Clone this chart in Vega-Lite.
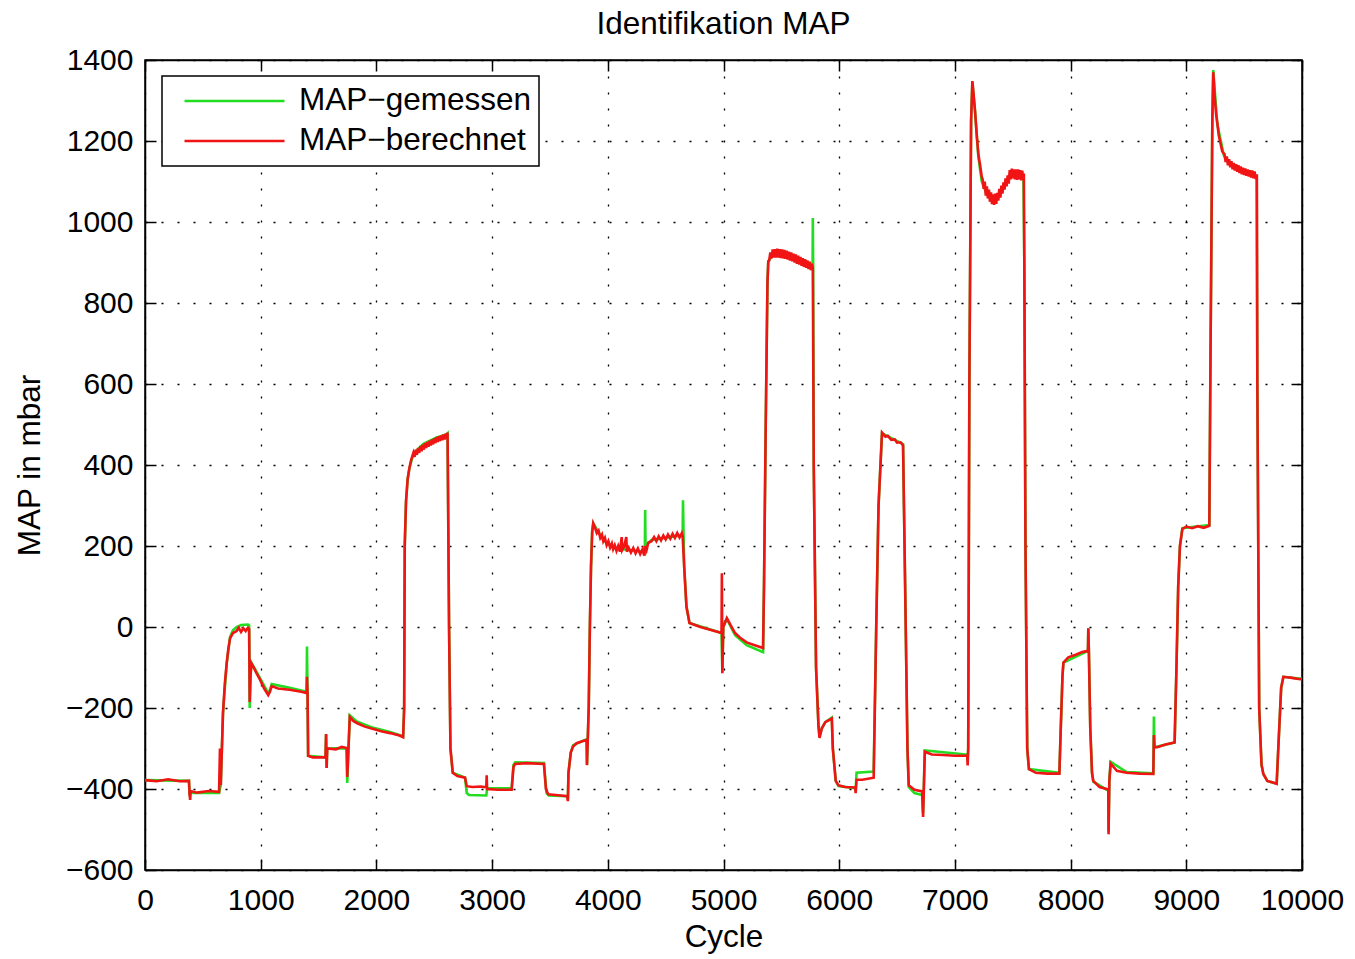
{
  "$schema": "https://vega.github.io/schema/vega-lite/v6.json",
  "width": 1157,
  "height": 810,
  "autosize": {"type": "none"},
  "padding": {"left": 145, "top": 60, "right": 53, "bottom": 89},
  "background": "white",
  "title": {"text": "Identifikation MAP", "fontSize": 31.5, "font": "Liberation Sans", "fontWeight": "normal", "color": "black", "offset": 5, "anchor": "middle"},
  "config": {
    "font": "Liberation Sans",
    "view": {"stroke": "black", "strokeWidth": 1.5},
    "axis": {
      "domainColor": "black", "domainWidth": 1.5,
      "tickColor": "black", "tickWidth": 1.5, "tickSize": -11,
      "labelFontSize": 30, "labelColor": "black", "labelFont": "Liberation Sans",
      "titleFontSize": 31.5, "titleFontWeight": "normal", "titleColor": "black", "titleFont": "Liberation Sans",
      "gridColor": "black", "gridDash": [2, 14], "gridWidth": 1.3, "gridOpacity": 1
    },
    "legend": {
      "strokeColor": "black", "fillColor": "white", "strokeWidth": 1.5,
      "padding": 8, "labelFontSize": 31.5, "labelColor": "black", "labelFont": "Liberation Sans", "labelLimit": 400
    }
  },
  "datasets": {
    "gem": [
      {"c":0,"v":-378},{"c":380,"v":-380},{"c":385,"v":-412},{"c":395,"v":-410},{"c":640,"v":-410},{"c":655,"v":-390},{"c":674,"v":-213},{"c":706,"v":-90},{"c":735,"v":-25},{"c":760,"v":-8},{"c":792,"v":0},{"c":830,"v":5},{"c":890,"v":6},{"c":900,"v":4},{"c":905,"v":-200},{"c":912,"v":-120},{"c":920,"v":-88},{"c":994,"v":-126},{"c":1065,"v":-163},{"c":1080,"v":-155},{"c":1095,"v":-141},{"c":1250,"v":-150},{"c":1397,"v":-160},{"c":1400,"v":-48},{"c":1405,"v":-165},{"c":1410,"v":-318},{"c":1560,"v":-322},{"c":1565,"v":-264},{"c":1570,"v":-348},{"c":1575,"v":-300},{"c":1743,"v":-299},{"c":1748,"v":-385},{"c":1770,"v":-218},{"c":1830,"v":-233},{"c":1974,"v":-249},{"c":2118,"v":-259},{"c":2231,"v":-270},{"c":2240,"v":-200},{"c":2245,"v":200},{"c":2256,"v":310},{"c":2270,"v":365},{"c":2285,"v":392},{"c":2320,"v":428},{"c":2406,"v":452},{"c":2522,"v":468},{"c":2608,"v":476},{"c":2615,"v":478},{"c":2620,"v":300},{"c":2628,"v":0},{"c":2640,"v":-300},{"c":2660,"v":-360},{"c":2766,"v":-372},{"c":2781,"v":-410},{"c":2800,"v":-415},{"c":2950,"v":-416},{"c":2957,"v":-398},{"c":3169,"v":-398},{"c":3185,"v":-340},{"c":3200,"v":-334},{"c":3448,"v":-336},{"c":3470,"v":-410},{"c":3490,"v":-416},{"c":3650,"v":-418},{"c":3655,"v":-425},{"c":3660,"v":-360},{"c":3680,"v":-310},{"c":3700,"v":-292},{"c":3817,"v":-277},{"c":3820,"v":-341},{"c":3835,"v":-200},{"c":3845,"v":0},{"c":3855,"v":150},{"c":3865,"v":235},{"c":3874,"v":256},{"c":3961,"v":215},{"c":4046,"v":195},{"c":4305,"v":186},{"c":4320,"v":182},{"c":4323,"v":289},{"c":4326,"v":200},{"c":4378,"v":215},{"c":4647,"v":227},{"c":4650,"v":313},{"c":4655,"v":225},{"c":4660,"v":150},{"c":4680,"v":50},{"c":4706,"v":10},{"c":4983,"v":-15},{"c":4990,"v":-110},{"c":4998,"v":0},{"c":5029,"v":20},{"c":5100,"v":-20},{"c":5200,"v":-45},{"c":5342,"v":-62},{"c":5350,"v":100},{"c":5365,"v":500},{"c":5380,"v":850},{"c":5387,"v":903},{"c":5430,"v":920},{"c":5575,"v":916},{"c":5763,"v":886},{"c":5770,"v":890},{"c":5772,"v":1010},{"c":5775,"v":890},{"c":5780,"v":400},{"c":5800,"v":-100},{"c":5821,"v":-245},{"c":5830,"v":-270},{"c":5850,"v":-250},{"c":5880,"v":-235},{"c":5936,"v":-224},{"c":5945,"v":-300},{"c":5970,"v":-380},{"c":5994,"v":-393},{"c":6139,"v":-398},{"c":6142,"v":-405},{"c":6150,"v":-360},{"c":6298,"v":-357},{"c":6320,"v":0},{"c":6340,"v":300},{"c":6370,"v":478},{"c":6552,"v":452},{"c":6570,"v":100},{"c":6590,"v":-300},{"c":6601,"v":-395},{"c":6650,"v":-410},{"c":6717,"v":-415},{"c":6725,"v":-460},{"c":6740,"v":-305},{"c":7107,"v":-315},{"c":7110,"v":-330},{"c":7115,"v":-300},{"c":7125,"v":600},{"c":7140,"v":1250},{"c":7151,"v":1345},{"c":7174,"v":1274},{"c":7203,"v":1160},{"c":7232,"v":1100},{"c":7275,"v":1068},{"c":7333,"v":1056},{"c":7376,"v":1068},{"c":7448,"v":1101},{"c":7491,"v":1118},{"c":7592,"v":1114},{"c":7600,"v":900},{"c":7610,"v":200},{"c":7625,"v":-300},{"c":7640,"v":-351},{"c":7903,"v":-360},{"c":7915,"v":-250},{"c":7930,"v":-120},{"c":7938,"v":-88},{"c":8150,"v":-59},{"c":8153,"v":-3},{"c":8158,"v":-60},{"c":8170,"v":-250},{"c":8185,"v":-360},{"c":8196,"v":-382},{"c":8326,"v":-404},{"c":8328,"v":-505},{"c":8335,"v":-375},{"c":8346,"v":-333},{"c":8484,"v":-358},{"c":8715,"v":-361},{"c":8720,"v":-221},{"c":8725,"v":-297},{"c":8899,"v":-285},{"c":8915,"v":-100},{"c":8930,"v":100},{"c":8945,"v":200},{"c":8966,"v":244},{"c":9199,"v":252},{"c":9210,"v":700},{"c":9225,"v":1250},{"c":9233,"v":1375},{"c":9268,"v":1241},{"c":9326,"v":1163},{"c":9412,"v":1133},{"c":9608,"v":1110},{"c":9614,"v":600},{"c":9630,"v":-200},{"c":9650,"v":-340},{"c":9666,"v":-363},{"c":9700,"v":-380},{"c":9781,"v":-387},{"c":9795,"v":-300},{"c":9820,"v":-150},{"c":9839,"v":-123},{"c":10000,"v":-128}
    ],
    "ber": [
      {"c":0,"v":-378},{"c":100,"v":-381},{"c":200,"v":-376},{"c":300,"v":-381},{"c":380,"v":-380},{"c":385,"v":-412},{"c":390,"v":-427},{"c":395,"v":-405},{"c":450,"v":-409},{"c":550,"v":-405},{"c":640,"v":-407},{"c":648,"v":-300},{"c":655,"v":-390},{"c":674,"v":-213},{"c":690,"v":-140},{"c":706,"v":-90},{"c":720,"v":-55},{"c":735,"v":-28},{"c":760,"v":-15},{"c":792,"v":-10},{"c":810,"v":-2},{"c":830,"v":-12},{"c":850,"v":-3},{"c":870,"v":-10},{"c":890,"v":-2},{"c":900,"v":-5},{"c":905,"v":-185},{"c":912,"v":-120},{"c":920,"v":-90},{"c":940,"v":-100},{"c":960,"v":-112},{"c":994,"v":-130},{"c":1030,"v":-152},{"c":1065,"v":-168},{"c":1080,"v":-160},{"c":1095,"v":-146},{"c":1150,"v":-152},{"c":1250,"v":-155},{"c":1350,"v":-160},{"c":1397,"v":-163},{"c":1400,"v":-123},{"c":1405,"v":-165},{"c":1410,"v":-318},{"c":1450,"v":-322},{"c":1560,"v":-322},{"c":1565,"v":-264},{"c":1570,"v":-348},{"c":1575,"v":-300},{"c":1650,"v":-302},{"c":1700,"v":-296},{"c":1743,"v":-299},{"c":1748,"v":-370},{"c":1770,"v":-222},{"c":1800,"v":-232},{"c":1830,"v":-237},{"c":1900,"v":-246},{"c":1974,"v":-252},{"c":2050,"v":-258},{"c":2118,"v":-262},{"c":2200,"v":-268},{"c":2231,"v":-272},{"c":2240,"v":-200},{"c":2245,"v":200},{"c":2256,"v":310},{"c":2270,"v":365},{"c":2285,"v":392},{"c":2300,"v":412},{"c":2320,"v":430},{"c":2330,"v":420},{"c":2340,"v":438},{"c":2350,"v":425},{"c":2360,"v":442},{"c":2370,"v":430},{"c":2380,"v":447},{"c":2390,"v":434},{"c":2400,"v":450},{"c":2410,"v":438},{"c":2420,"v":454},{"c":2430,"v":442},{"c":2440,"v":457},{"c":2450,"v":445},{"c":2460,"v":460},{"c":2470,"v":448},{"c":2480,"v":463},{"c":2490,"v":451},{"c":2500,"v":466},{"c":2510,"v":454},{"c":2520,"v":469},{"c":2530,"v":457},{"c":2540,"v":471},{"c":2550,"v":459},{"c":2560,"v":473},{"c":2570,"v":461},{"c":2580,"v":475},{"c":2590,"v":463},{"c":2600,"v":477},{"c":2608,"v":466},{"c":2615,"v":480},{"c":2620,"v":300},{"c":2628,"v":0},{"c":2640,"v":-300},{"c":2660,"v":-360},{"c":2700,"v":-368},{"c":2766,"v":-372},{"c":2781,"v":-393},{"c":2830,"v":-395},{"c":2900,"v":-394},{"c":2950,"v":-396},{"c":2953,"v":-366},{"c":2957,"v":-400},{"c":3050,"v":-402},{"c":3169,"v":-402},{"c":3185,"v":-345},{"c":3200,"v":-338},{"c":3300,"v":-336},{"c":3448,"v":-338},{"c":3465,"v":-400},{"c":3485,"v":-413},{"c":3550,"v":-415},{"c":3650,"v":-418},{"c":3655,"v":-430},{"c":3660,"v":-360},{"c":3680,"v":-310},{"c":3700,"v":-295},{"c":3730,"v":-287},{"c":3780,"v":-282},{"c":3817,"v":-279},{"c":3820,"v":-341},{"c":3835,"v":-200},{"c":3845,"v":0},{"c":3855,"v":150},{"c":3865,"v":235},{"c":3874,"v":256},{"c":3890,"v":245},{"c":3905,"v":232},{"c":3920,"v":238},{"c":3935,"v":220},{"c":3950,"v":228},{"c":3961,"v":212},{"c":3975,"v":220},{"c":3990,"v":202},{"c":4005,"v":212},{"c":4020,"v":196},{"c":4035,"v":206},{"c":4046,"v":192},{"c":4060,"v":202},{"c":4075,"v":188},{"c":4090,"v":200},{"c":4105,"v":186},{"c":4120,"v":222},{"c":4125,"v":190},{"c":4140,"v":198},{"c":4160,"v":222},{"c":4165,"v":186},{"c":4180,"v":196},{"c":4200,"v":184},{"c":4220,"v":195},{"c":4240,"v":182},{"c":4260,"v":194},{"c":4280,"v":180},{"c":4300,"v":192},{"c":4315,"v":176},{"c":4323,"v":200},{"c":4335,"v":190},{"c":4350,"v":208},{"c":4378,"v":212},{"c":4400,"v":222},{"c":4420,"v":212},{"c":4440,"v":224},{"c":4460,"v":214},{"c":4480,"v":226},{"c":4500,"v":216},{"c":4520,"v":228},{"c":4540,"v":218},{"c":4560,"v":230},{"c":4580,"v":220},{"c":4600,"v":232},{"c":4620,"v":221},{"c":4640,"v":232},{"c":4647,"v":224},{"c":4660,"v":150},{"c":4680,"v":50},{"c":4706,"v":10},{"c":4800,"v":0},{"c":4900,"v":-8},{"c":4983,"v":-15},{"c":4986,"v":133},{"c":4990,"v":-114},{"c":4998,"v":0},{"c":5029,"v":22},{"c":5060,"v":5},{"c":5100,"v":-15},{"c":5150,"v":-28},{"c":5200,"v":-38},{"c":5270,"v":-45},{"c":5342,"v":-52},{"c":5350,"v":100},{"c":5365,"v":500},{"c":5380,"v":850},{"c":5387,"v":903},{"c":5395,"v":905},{"c":5405,"v":925},{"c":5415,"v":910},{"c":5425,"v":932},{"c":5435,"v":912},{"c":5445,"v":933},{"c":5455,"v":912},{"c":5465,"v":934},{"c":5475,"v":912},{"c":5485,"v":933},{"c":5495,"v":911},{"c":5505,"v":932},{"c":5515,"v":910},{"c":5525,"v":931},{"c":5535,"v":909},{"c":5545,"v":929},{"c":5555,"v":907},{"c":5565,"v":927},{"c":5575,"v":905},{"c":5585,"v":925},{"c":5595,"v":903},{"c":5605,"v":922},{"c":5615,"v":900},{"c":5625,"v":920},{"c":5635,"v":897},{"c":5645,"v":917},{"c":5655,"v":895},{"c":5665,"v":914},{"c":5675,"v":892},{"c":5685,"v":911},{"c":5695,"v":889},{"c":5705,"v":908},{"c":5715,"v":887},{"c":5725,"v":905},{"c":5735,"v":884},{"c":5745,"v":902},{"c":5755,"v":881},{"c":5763,"v":897},{"c":5772,"v":888},{"c":5780,"v":400},{"c":5800,"v":-100},{"c":5821,"v":-245},{"c":5830,"v":-274},{"c":5850,"v":-250},{"c":5880,"v":-235},{"c":5936,"v":-226},{"c":5945,"v":-300},{"c":5970,"v":-380},{"c":5994,"v":-391},{"c":6050,"v":-395},{"c":6139,"v":-396},{"c":6142,"v":-410},{"c":6150,"v":-377},{"c":6200,"v":-377},{"c":6298,"v":-372},{"c":6320,"v":0},{"c":6340,"v":300},{"c":6370,"v":480},{"c":6400,"v":470},{"c":6420,"v":472},{"c":6450,"v":462},{"c":6480,"v":463},{"c":6500,"v":455},{"c":6530,"v":456},{"c":6552,"v":448},{"c":6570,"v":100},{"c":6590,"v":-300},{"c":6601,"v":-391},{"c":6650,"v":-402},{"c":6717,"v":-406},{"c":6725,"v":-469},{"c":6740,"v":-308},{"c":6800,"v":-315},{"c":6900,"v":-316},{"c":7000,"v":-318},{"c":7107,"v":-318},{"c":7110,"v":-342},{"c":7115,"v":-300},{"c":7125,"v":600},{"c":7140,"v":1250},{"c":7151,"v":1348},{"c":7160,"v":1320},{"c":7174,"v":1274},{"c":7190,"v":1210},{"c":7203,"v":1167},{"c":7218,"v":1140},{"c":7232,"v":1112},{"c":7240,"v":1105},{"c":7249,"v":1082},{"c":7258,"v":1100},{"c":7267,"v":1065},{"c":7276,"v":1088},{"c":7285,"v":1058},{"c":7294,"v":1080},{"c":7303,"v":1050},{"c":7312,"v":1073},{"c":7321,"v":1044},{"c":7330,"v":1068},{"c":7339,"v":1042},{"c":7348,"v":1070},{"c":7357,"v":1045},{"c":7366,"v":1072},{"c":7375,"v":1053},{"c":7384,"v":1082},{"c":7393,"v":1060},{"c":7402,"v":1090},{"c":7411,"v":1070},{"c":7420,"v":1098},{"c":7429,"v":1080},{"c":7438,"v":1108},{"c":7447,"v":1088},{"c":7456,"v":1115},{"c":7465,"v":1095},{"c":7474,"v":1128},{"c":7483,"v":1105},{"c":7492,"v":1132},{"c":7501,"v":1108},{"c":7510,"v":1130},{"c":7519,"v":1105},{"c":7528,"v":1130},{"c":7537,"v":1104},{"c":7546,"v":1130},{"c":7555,"v":1105},{"c":7564,"v":1128},{"c":7573,"v":1103},{"c":7582,"v":1127},{"c":7591,"v":1104},{"c":7596,"v":1120},{"c":7600,"v":900},{"c":7610,"v":200},{"c":7625,"v":-300},{"c":7640,"v":-351},{"c":7700,"v":-360},{"c":7800,"v":-362},{"c":7903,"v":-362},{"c":7915,"v":-250},{"c":7930,"v":-120},{"c":7938,"v":-88},{"c":7980,"v":-75},{"c":8050,"v":-68},{"c":8100,"v":-62},{"c":8150,"v":-59},{"c":8153,"v":-3},{"c":8158,"v":-60},{"c":8170,"v":-250},{"c":8185,"v":-360},{"c":8196,"v":-380},{"c":8250,"v":-395},{"c":8326,"v":-401},{"c":8328,"v":-512},{"c":8335,"v":-380},{"c":8346,"v":-337},{"c":8400,"v":-355},{"c":8484,"v":-360},{"c":8600,"v":-362},{"c":8715,"v":-363},{"c":8720,"v":-267},{"c":8725,"v":-297},{"c":8749,"v":-297},{"c":8820,"v":-290},{"c":8899,"v":-285},{"c":8915,"v":-100},{"c":8930,"v":100},{"c":8945,"v":200},{"c":8966,"v":242},{"c":9000,"v":248},{"c":9050,"v":244},{"c":9100,"v":249},{"c":9150,"v":245},{"c":9199,"v":250},{"c":9210,"v":700},{"c":9225,"v":1250},{"c":9233,"v":1370},{"c":9245,"v":1310},{"c":9258,"v":1265},{"c":9268,"v":1245},{"c":9280,"v":1215},{"c":9295,"v":1195},{"c":9310,"v":1175},{"c":9320,"v":1170},{"c":9330,"v":1168},{"c":9340,"v":1148},{"c":9350,"v":1162},{"c":9360,"v":1140},{"c":9370,"v":1155},{"c":9380,"v":1135},{"c":9390,"v":1150},{"c":9400,"v":1130},{"c":9410,"v":1146},{"c":9420,"v":1127},{"c":9430,"v":1143},{"c":9440,"v":1124},{"c":9450,"v":1140},{"c":9460,"v":1121},{"c":9470,"v":1137},{"c":9480,"v":1118},{"c":9490,"v":1134},{"c":9500,"v":1116},{"c":9510,"v":1132},{"c":9520,"v":1114},{"c":9530,"v":1130},{"c":9540,"v":1112},{"c":9550,"v":1128},{"c":9560,"v":1110},{"c":9570,"v":1127},{"c":9580,"v":1108},{"c":9590,"v":1125},{"c":9600,"v":1106},{"c":9610,"v":1118},{"c":9614,"v":600},{"c":9630,"v":-200},{"c":9650,"v":-340},{"c":9666,"v":-363},{"c":9700,"v":-380},{"c":9781,"v":-387},{"c":9795,"v":-300},{"c":9820,"v":-150},{"c":9839,"v":-123},{"c":9900,"v":-125},{"c":9983,"v":-129},{"c":10000,"v":-128}
    ]
  },
  "layer": [
    {
      "data": {"name": "gem"},
      "mark": {"type": "line", "strokeWidth": 2.6, "clip": true},
      "encoding": {
        "x": {"field": "c", "type": "quantitative", "scale": {"domain": [0, 10000], "nice": false},
              "axis": {"orient": "bottom", "values": [0,1000,2000,3000,4000,5000,6000,7000,8000,9000,10000], "format": "d", "title": "Cycle", "grid": true, "labelPadding": 26, "titlePadding": 6, "labelFlush": false}},
        "y": {"field": "v", "type": "quantitative", "scale": {"domain": [-600, 1400], "nice": false},
              "axis": {"orient": "left", "values": [-600,-400,-200,0,200,400,600,800,1000,1200,1400], "format": "d", "title": "MAP in mbar", "grid": true, "labelPadding": 23, "titlePadding": 19, "labelFlush": false}},
        "color": {"datum": "MAP−gemessen", "type": "nominal",
                  "scale": {"domain": ["MAP−gemessen", "MAP−berechnet"], "range": ["#22dd22", "#f01414"]},
                  "legend": {"orient": "none", "legendX": 17, "legendY": 16, "title": null, "symbolType": "stroke", "symbolSize": 10000, "symbolStrokeWidth": 2.5, "clipHeight": 34, "rowPadding": 6, "symbolOffset": 13, "labelOffset": 13}}
      }
    },
    {
      "data": {"name": "ber"},
      "mark": {"type": "line", "strokeWidth": 2.6, "clip": true},
      "encoding": {
        "x": {"field": "c", "type": "quantitative",
              "axis": {"orient": "top", "values": [0,1000,2000,3000,4000,5000,6000,7000,8000,9000,10000], "labels": false, "title": null, "grid": false}},
        "y": {"field": "v", "type": "quantitative",
              "axis": {"orient": "right", "values": [-600,-400,-200,0,200,400,600,800,1000,1200,1400], "labels": false, "title": null, "grid": false}},
        "color": {"datum": "MAP−berechnet", "type": "nominal"}
      }
    }
  ],
  "resolve": {"axis": {"x": "independent", "y": "independent"}}
}
